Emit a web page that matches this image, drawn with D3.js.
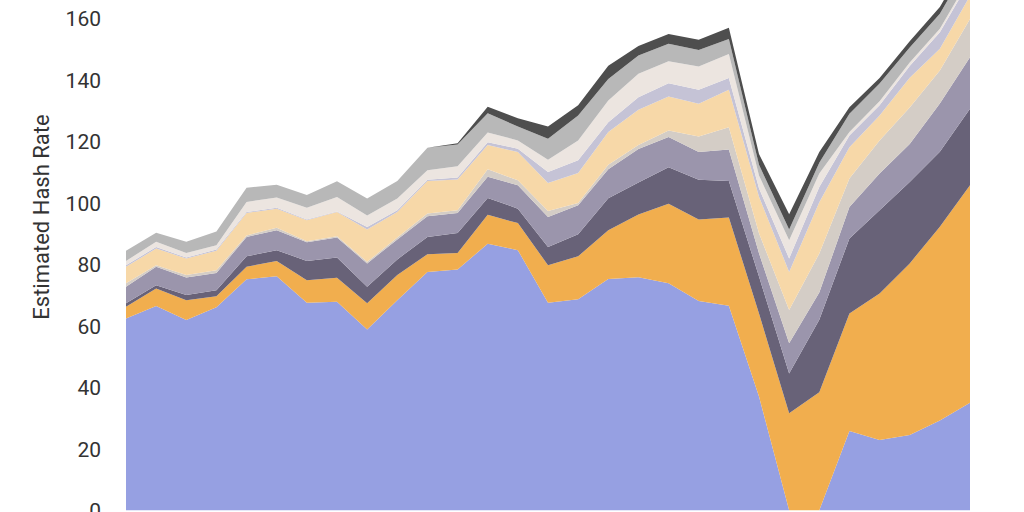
<!DOCTYPE html>
<html>
<head>
<meta charset="utf-8">
<script src="https://cdn.jsdelivr.net/npm/d3@7"></script>
<style>
  html, body { margin: 0; padding: 0; background: #fff; }
  #plot { width: 1024px; height: 512px; overflow: hidden; }
</style>
</head>
<body>
<div id="plot"></div>
<script>
// Stacked area of estimated hash rate by pool (bottom layer first)
const periods = [1, 2, 3, 4, 5, 6, 7, 8, 9, 10, 11, 12, 13, 14, 15, 16, 17, 18, 19, 20, 21, 22, 23, 24, 25, 26, 27, 28, 29];

const poolA = [62.4, 66.4, 61.9, 66.0, 75.1, 76.1, 67.5, 67.8, 58.8, 68.3, 77.5, 78.3, 86.7, 84.6, 67.5, 68.6, 75.2, 75.8, 73.8, 68.1, 66.5, 37.0, 0, 0, 25.8, 22.9, 24.5, 29.2, 35.0];
const poolB = [3.8, 5.7, 6.4, 3.6, 4.1, 5.0, 7.3, 7.8, 8.5, 8.2, 5.8, 5.4, 9.4, 8.8, 12.2, 14.0, 15.9, 20.4, 25.9, 26.5, 28.7, 27.0, 31.6, 38.4, 38.2, 47.6, 55.8, 63.0, 70.7];
const poolC = [1.1, 1.1, 1.7, 2.0, 3.4, 3.5, 6.3, 6.6, 5.4, 5.1, 5.6, 6.5, 5.5, 4.7, 5.9, 7.2, 10.4, 10.4, 11.9, 12.9, 11.9, 12.0, 12.9, 23.6, 24.4, 27.1, 26.5, 24.4, 24.9];
const poolD = [5.4, 6.0, 5.7, 5.6, 6.3, 6.5, 6.1, 6.5, 7.6, 6.5, 6.7, 6.5, 6.9, 7.6, 9.8, 9.4, 9.4, 10.9, 9.8, 9.0, 10.2, 7.6, 9.8, 8.8, 10.2, 11.9, 12.3, 15.7, 16.7];
const poolE = [1.1, 0.5, 0.8, 0.9, 0.5, 0.8, 0.3, 0.4, 0.5, 0.6, 0.9, 0.9, 2.4, 1.6, 1.9, 0.7, 1.5, 1.3, 2.1, 5.1, 7.3, 6.5, 10.8, 12.7, 9.3, 10.8, 11.9, 10.7, 12.5];
const poolF = [5.4, 5.4, 5.4, 6.3, 7.3, 6.2, 6.8, 7.9, 10.5, 8.3, 10.6, 10.0, 7.9, 9.2, 9.1, 9.8, 10.6, 11.5, 11.1, 10.6, 12.2, 11.9, 12.4, 16.7, 10.2, 8.1, 9.7, 7.1, 7.5];
const poolG = [0.5, 0.5, 0.3, 0.4, 0.3, 0.3, 0.3, 0.2, 0.8, 0.6, 0.4, 0.6, 0.9, 1.1, 3.6, 4.1, 3.2, 4.0, 4.3, 4.6, 3.8, 2.7, 4.4, 4.9, 3.8, 3.3, 3.8, 5.4, 5.0];
const poolH = [1.4, 1.7, 1.5, 1.4, 3.3, 3.3, 3.8, 4.7, 3.8, 3.8, 3.1, 3.7, 3.2, 2.7, 4.0, 6.5, 7.1, 7.7, 7.1, 7.5, 7.8, 4.2, 5.9, 4.4, 1.1, 1.3, 1.1, 1.1, 1.1];
const poolI = [3.3, 3.0, 3.6, 4.5, 4.6, 4.2, 4.1, 5.1, 5.5, 5.7, 7.3, 7.1, 6.2, 4.5, 6.8, 8.1, 7.0, 5.9, 5.7, 5.4, 4.9, 3.5, 3.5, 3.5, 6.0, 5.8, 4.9, 4.9, 5.0];
const poolJ = [0, 0, 0, 0, 0, 0, 0, 0, 0, 0, 0, 0.4, 2.1, 2.7, 4.0, 3.3, 4.3, 3.1, 3.2, 3.3, 3.6, 3.5, 5.0, 3.5, 2.1, 1.8, 2.0, 2.2, 2.0];

const seriesNames = ['Pool A', 'Pool B', 'Pool C', 'Pool D', 'Pool E', 'Pool F', 'Pool G', 'Pool H', 'Pool I', 'Pool J'];
const seriesValues = [poolA, poolB, poolC, poolD, poolE, poolF, poolG, poolH, poolI, poolJ];
const seriesColors = ['#96a0e2', '#f1ae4e', '#686278', '#9b95ac', '#d4cdc6', '#f7d8a8', '#c5c3d6', '#ece5e0', '#b8b8b8', '#4e4e4e'];
const yTicks = [0, 20, 40, 60, 80, 100, 120, 140, 160];

function createD3Visualization() {
  d3.select('#plot').selectAll('*').remove();

  const W = 1024;
  const H = 512;
  const plot = { left: 126, right: 970, top: 18.3, bottom: 510.3 };

  const svg = d3.select('#plot').append('svg').attr('width', W).attr('height', H);

  // one row per period, one column per pool
  const table = periods.map((p, i) => {
    const row = { period: p };
    seriesNames.forEach((name, k) => { row[name] = seriesValues[k][i]; });
    return row;
  });

  const stack = d3.stack().keys(seriesNames).order(d3.stackOrderNone).offset(d3.stackOffsetNone);
  const layers = stack(table);

  const x = d3.scalePoint().domain(periods).range([plot.left, plot.right]);
  const y = d3.scaleLinear().domain([0, 160]).range([plot.bottom, plot.top]);
  const color = d3.scaleOrdinal().domain(seriesNames).range(seriesColors);

  const area = d3
    .area()
    .x((d) => x(d.data.period))
    .y0((d) => y(d[0]))
    .y1((d) => y(d[1]))
    .curve(d3.curveLinear);

  svg
    .append('g')
    .selectAll('path')
    .data(layers)
    .enter()
    .append('path')
    .attr('d', area)
    .attr('fill', (d) => color(d.key))
    .append('title')
    .text((d) => d.key);

  const yAxis = d3.axisLeft(y).tickValues(yTicks).tickSize(0).tickPadding(0).tickFormat(d3.format('d'));
  const axisG = svg.append('g').attr('transform', 'translate(101,0)').call(yAxis);
  axisG.select('.domain').remove();
  axisG
    .selectAll('text')
    .attr('dy', '0.36em')
    .style('font-family', 'Roboto, "Liberation Sans", sans-serif')
    .style('font-size', '21px')
    .style('fill', '#333');

  svg
    .append('text')
    .attr('transform', 'rotate(-90)')
    .attr('x', -217)
    .attr('y', 41)
    .attr('dy', '0.35em')
    .style('text-anchor', 'middle')
    .style('font-family', 'Roboto, "Liberation Sans", sans-serif')
    .style('font-size', '22px')
    .style('fill', '#333')
    .text('Estimated Hash Rate');
}

createD3Visualization();
</script>
</body>
</html>
